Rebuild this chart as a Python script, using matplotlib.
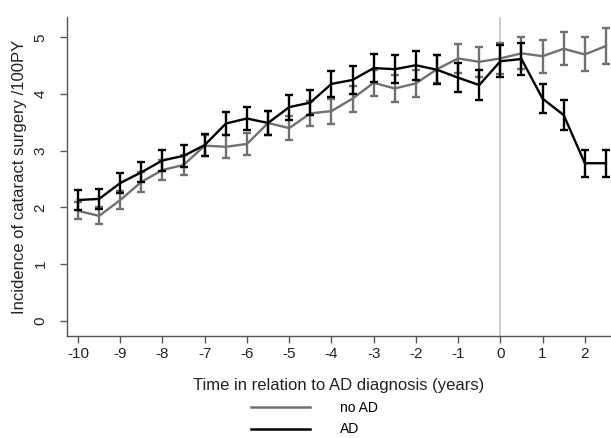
import numpy as np
import matplotlib
matplotlib.use("Agg")
import matplotlib.pyplot as plt
from matplotlib.lines import Line2D

plt.rcParams['font.family'] = ['Liberation Sans', 'DejaVu Sans']
plt.rcParams['axes.unicode_minus'] = False

# time relative to AD diagnosis (years)
years = [-10, -9.5, -9, -8.5, -8, -7.5, -7, -6.5, -6, -5.5, -5, -4.5, -4,
         -3.5, -3, -2.5, -2, -1.5, -1, -0.5, 0, 0.5, 1, 1.5, 2, 2.5]

# incidence /100PY
no_ad = [1.94, 1.85, 2.13, 2.45, 2.66, 2.75, 3.09, 3.07, 3.12, 3.49, 3.40, 3.66, 3.70,
         3.92, 4.20, 4.10, 4.19, 4.44, 4.63, 4.57, 4.63, 4.72, 4.67, 4.80, 4.70, 4.85]
no_ad_err = [0.15, 0.15, 0.16, 0.17, 0.18, 0.18, 0.19, 0.20, 0.20, 0.21, 0.21, 0.22, 0.22,
             0.23, 0.23, 0.24, 0.24, 0.25, 0.26, 0.26, 0.27, 0.28, 0.29, 0.29, 0.30, 0.31]

ad = [2.13, 2.15, 2.43, 2.62, 2.83, 2.91, 3.10, 3.48, 3.57, 3.49, 3.77, 3.85, 4.18,
      4.25, 4.46, 4.44, 4.51, 4.43, 4.29, 4.16, 4.58, 4.62, 3.92, 3.63, 2.78, 2.78]
ad_err = [0.17, 0.17, 0.18, 0.18, 0.19, 0.19, 0.20, 0.21, 0.21, 0.21, 0.22, 0.22, 0.23,
          0.24, 0.25, 0.25, 0.26, 0.26, 0.26, 0.26, 0.28, 0.28, 0.26, 0.26, 0.24, 0.24]

gray = '#707070'
axcol = '#555555'

fig = plt.figure(figsize=(6.11, 4.38), dpi=100)
ax = fig.add_axes([0.1097, 0.2329, 0.8903, 0.7281])

ax.axvline(0, color='#c4c4c4', lw=1.2, zorder=1)

ax.errorbar(years, no_ad, yerr=no_ad_err, color=gray, lw=1.7, elinewidth=1.7,
            capsize=3, capthick=1.7, zorder=2)
ax.errorbar(years, ad, yerr=ad_err, color='black', lw=1.7, elinewidth=1.7,
            capsize=3, capthick=1.7, zorder=3)

ax.set_xlim(-10.26, 2.62)
ax.set_ylim(-0.27, 5.36)
ax.set_xticks(range(-10, 3))
ax.set_yticks(range(0, 6))
ax.set_yticklabels([str(i) for i in range(6)], rotation=90, va='center')

for s in ['top', 'right']:
    ax.spines[s].set_visible(False)
for s in ['left', 'bottom']:
    ax.spines[s].set_color(axcol)
    ax.spines[s].set_linewidth(1.0)
ax.tick_params(axis='both', colors=axcol, length=5, width=1.0, labelsize=11,
               labelcolor='#222222')
ax.tick_params(axis='y', pad=9)
ax.tick_params(axis='x', pad=3)

ax.set_xlabel('Time in relation to AD diagnosis (years)', fontsize=12, color='#222222',
              labelpad=12)
ax.set_ylabel('Incidence of cataract surgery /100PY', fontsize=12, color='#222222',
              labelpad=5)

handles = [Line2D([], [], color=gray, lw=1.8), Line2D([], [], color='black', lw=1.8)]
fig.legend(handles, ['no AD', 'AD'], loc='lower center', bbox_to_anchor=(0.515, -0.025),
           ncol=1, frameon=False, fontsize=10, handlelength=4.2, handletextpad=2.2,
           labelspacing=0.55)

fig.savefig('out.png', dpi=100)
